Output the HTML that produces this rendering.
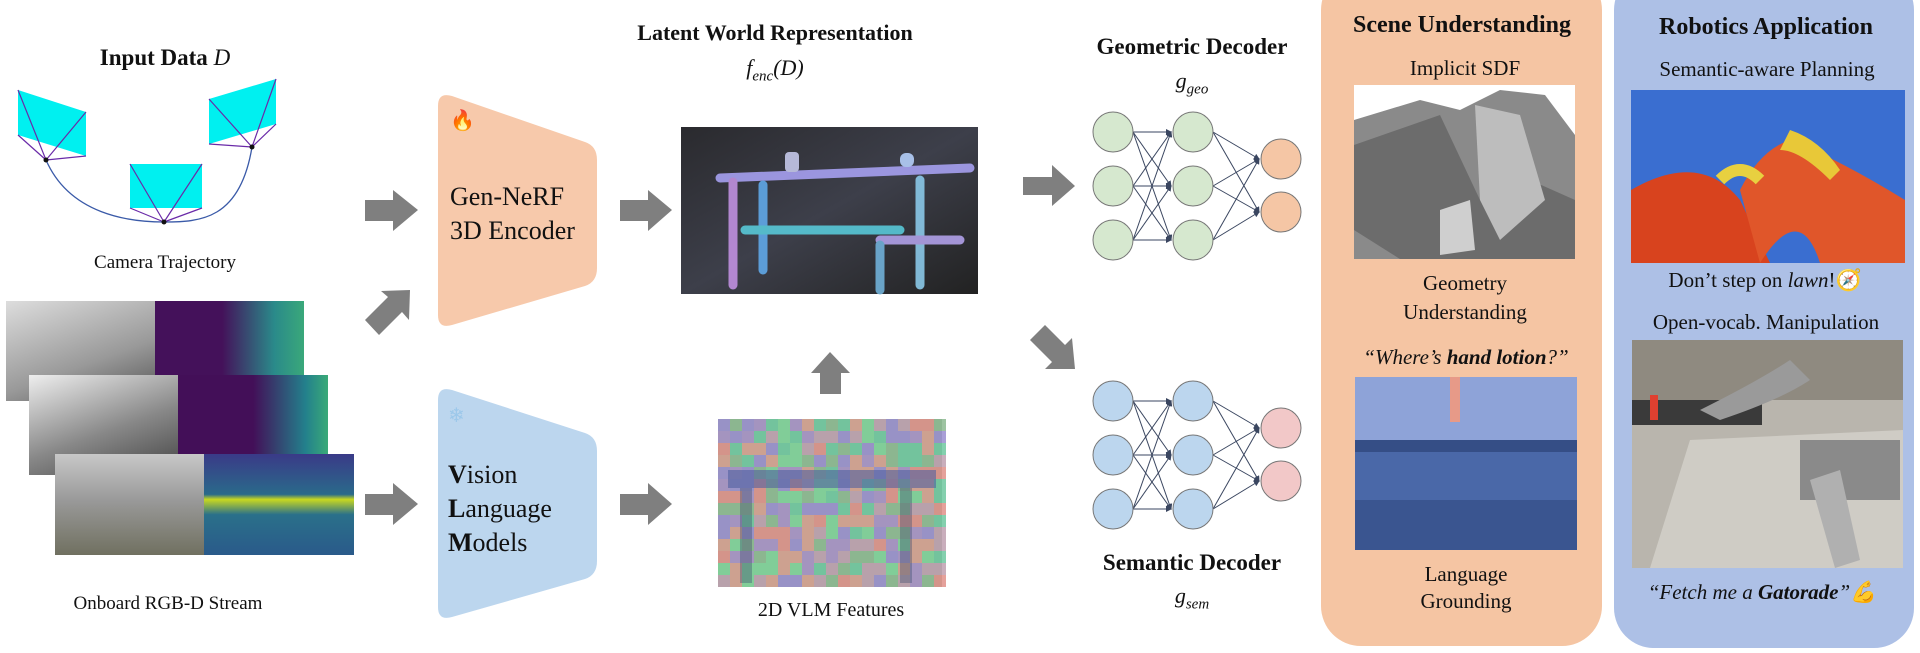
<!DOCTYPE html>
<html><head><meta charset="utf-8"><style>
body{margin:0;width:1920px;height:653px;background:#fff;position:relative;overflow:hidden;font-family:"Liberation Serif",serif;color:#111}
.t{position:absolute;white-space:nowrap;transform:translateX(-50%);line-height:1}
.b{font-weight:bold}
.img{position:absolute}
</style></head><body>
<svg width="1920" height="653" style="position:absolute;left:0;top:0">
<defs>
<marker id="ah" markerWidth="6" markerHeight="6" refX="5" refY="3" orient="auto"><path d="M0,0L6,3L0,6z" fill="#3a4660"/></marker>
<linearGradient id="lat" x1="0" y1="0" x2="1" y2="1"><stop offset="0" stop-color="#2a2a2e"/><stop offset=".5" stop-color="#3d3f4a"/><stop offset="1" stop-color="#222"/></linearGradient>
</defs>
<rect x="1321" y="-30" width="281" height="676" rx="40" fill="#f5c5a3"/>
<rect x="1614" y="-30" width="300" height="678" rx="40" fill="#adc0e6"/>
<path d="M46,160 C70,215 130,222 164,222 C200,222 240,220 252,147" fill="none" stroke="#3a5aa8" stroke-width="1.3"/>
<polygon points="18,90 86,112 86,156 18,135" fill="#00f0f0"/>
<polygon points="130,164 202,164 202,208 130,208" fill="#00f0f0"/>
<polygon points="209,99 276,79 276,124 209,144" fill="#00f0f0"/>
<g stroke="#6a2aa8" stroke-width="1.2">
<line x1="46" y1="160" x2="18" y2="90"/><line x1="46" y1="160" x2="86" y2="112"/><line x1="46" y1="160" x2="18" y2="135"/><line x1="46" y1="160" x2="86" y2="156"/>
<line x1="164" y1="222" x2="130" y2="164"/><line x1="164" y1="222" x2="202" y2="164"/><line x1="164" y1="222" x2="130" y2="208"/><line x1="164" y1="222" x2="202" y2="208"/>
<line x1="252" y1="147" x2="209" y2="99"/><line x1="252" y1="147" x2="276" y2="79"/><line x1="252" y1="147" x2="209" y2="144"/><line x1="252" y1="147" x2="276" y2="124"/>
</g>
<circle cx="46" cy="160" r="2.5" fill="#111"/><circle cx="164" cy="222" r="2.5" fill="#111"/><circle cx="252" cy="147" r="2.5" fill="#111"/>
<path d="M452,96 L585,142 Q597,146 597,160 L597,268 Q597,282 585,286 L452,325 Q438,329 438,315 L438,106 Q438,92 452,96z" fill="#f7c9ab"/>
<path d="M452,390 L585,433 Q597,437 597,451 L597,561 Q597,575 585,579 L452,617 Q438,621 438,607 L438,400 Q438,386 452,390z" fill="#bcd6ee"/>
<g fill="#7f7f7f">
<path d="M365,200 L393,200 L393,190 L418,210 L393,231 L393,221 L365,221z"/>
<path d="M365,494 L393,494 L393,483 L418,504 L393,525 L393,515 L365,515z"/>
<path d="M620,200 L648,200 L648,190 L672,210 L648,231 L648,221 L620,221z"/>
<path d="M620,494 L648,494 L648,483 L672,504 L648,525 L648,515 L620,515z"/>
<path d="M1023,177 L1052,177 L1052,165 L1075,186 L1052,206 L1052,195 L1023,195z"/>
<path d="M820,394 L820,373 L811,373 L830,352 L850,373 L841,373 L841,394z"/>
<path d="M365,320 L388,297 L381,291 L410,290 L409,320 L402,312 L379,335z"/>
<path d="M1030,340 L1045,325 L1065,345 L1072,338 L1075,369 L1045,369 L1052,362z"/>
</g>
<rect x="681" y="127" width="297" height="167" fill="url(#lat)"/>
<g fill="none" stroke-width="9" stroke-linecap="round" opacity=".9">
<path d="M720,178 L970,168" stroke="#a6a0f0"/>
<path d="M733,182 L733,285" stroke="#c090e0"/>
<path d="M763,185 L763,270" stroke="#60a8e8"/>
<path d="M920,180 L920,285" stroke="#8ac8e8"/>
<path d="M745,230 L900,230" stroke="#58c8d8"/>
<path d="M880,240 L960,240" stroke="#b0a0e8"/>
<path d="M880,245 L880,290" stroke="#70b0d8"/>
</g>
<rect x="785" y="152" width="14" height="20" rx="4" fill="#b6b9d8"/><rect x="900" y="153" width="14" height="14" rx="6" fill="#a8c0e8"/>
<rect x="718" y="419" width="224" height="168" fill="#8fa98e"/>
<g id="mos"></g>
<g stroke="#3a4660" stroke-width="1" marker-end="url(#ah)">
<g id="edges1"></g><g id="edges2"></g>
</g>
<g id="nodes"></g>
<rect x="1354" y="85" width="221" height="174" fill="#fff"/>
<path d="M1354,120 L1420,100 L1460,110 L1500,90 L1545,95 L1575,135 L1575,259 L1354,259z" fill="#8a8a8a"/>
<path d="M1354,145 L1440,115 L1480,200 L1530,180 L1575,200 L1575,259 L1400,259 L1354,230z" fill="#6c6c6c"/>
<polygon points="1440,210 1470,200 1475,250 1440,255" fill="#cfcfcf"/>
<polygon points="1475,105 1520,115 1545,200 1500,240 1480,200" fill="#bdbdbd"/>
<rect x="1355" y="377" width="222" height="173" fill="#4a68a8"/>
<rect x="1355" y="377" width="222" height="75" fill="#8ea3d8"/>
<rect x="1355" y="440" width="222" height="12" fill="#354e86"/>
<rect x="1450" y="377" width="10" height="45" fill="#e79a88"/>
<rect x="1355" y="500" width="222" height="50" fill="#3a5590"/>
<rect x="1631" y="90" width="274" height="173" fill="#3a6ed0"/>
<path d="M1631,190 Q1700,150 1740,200 L1770,263 L1631,263z" fill="#d8431e"/>
<path d="M1740,190 Q1760,150 1790,140 Q1840,160 1905,200 L1905,263 L1820,263 Q1800,200 1760,263z" fill="#e0562a"/>
<path d="M1790,130 Q1820,140 1840,170 L1830,180 Q1800,150 1780,150z" fill="#e8c838"/>
<path d="M1720,180 Q1740,160 1760,180" stroke="#e8d040" stroke-width="12" fill="none"/>
<rect x="1632" y="340" width="271" height="228" fill="#b9b5ad"/>
<rect x="1632" y="340" width="271" height="60" fill="#8f8a80"/>
<rect x="1632" y="400" width="130" height="25" fill="#3a3a3a"/>
<polygon points="1690,440 1903,430 1903,568 1650,568" fill="#cfccc5"/>
<path d="M1700,410 Q1760,380 1790,360 L1810,380 Q1780,400 1720,420z" fill="#9a9a9a"/>
<rect x="1800" y="440" width="100" height="60" fill="#8a8a8a"/>
<polygon points="1810,480 1840,470 1860,560 1835,568" fill="#b0b0b0"/>
<rect x="1650" y="395" width="8" height="25" fill="#e04030"/>
</svg>
<div class="img" style="left:6px;top:301px;width:149px;height:100px;background:linear-gradient(160deg,#ddd,#999 60%,#555)"></div>
<div class="img" style="left:155px;top:301px;width:149px;height:100px;background:linear-gradient(90deg,#44115a 45%,#2a8a8a 80%,#3aa87a)"></div>
<div class="img" style="left:29px;top:375px;width:149px;height:100px;background:linear-gradient(160deg,#eee,#888 55%,#444)"></div>
<div class="img" style="left:178px;top:375px;width:150px;height:100px;background:linear-gradient(90deg,#430f58 50%,#23808c 85%,#3aaa78)"></div>
<div class="img" style="left:55px;top:454px;width:149px;height:101px;background:linear-gradient(180deg,#c8c8c8,#9a9a9a 45%,#707060)"></div>
<div class="img" style="left:204px;top:454px;width:150px;height:101px;background:linear-gradient(180deg,#3a3a88,#2a6a8a 40%,#c8d820 45%,#2a708a 60%,#2a5a8a)"></div>
<div class="t b" style="left:165px;top:46px;font-size:23px">Input Data <i style="font-weight:normal">D</i></div>
<div class="t" style="left:165px;top:253px;font-size:19px">Camera Trajectory</div>
<div class="t" style="left:168px;top:594px;font-size:19px">Onboard RGB-D Stream</div>
<div style="position:absolute;left:450px;top:108px;font-size:20px">🔥</div>
<div style="position:absolute;left:450px;top:180px;font-size:26px;line-height:34px">Gen-NeRF<br>3D Encoder</div>
<div style="position:absolute;left:448px;top:403px;font-size:20px;color:#9cc8ea">❄</div>
<div style="position:absolute;left:448px;top:458px;font-size:26px;line-height:34px"><b>V</b>ision<br><b>L</b>anguage<br><b>M</b>odels</div>
<div class="t b" style="left:775px;top:22px;font-size:22px">Latent World Representation</div>
<div class="t" style="left:775px;top:57px;font-size:22px;font-style:italic">f<sub style="font-size:15px">enc</sub>(D)</div>
<div class="t" style="left:831px;top:600px;font-size:20px">2D VLM Features</div>
<div class="t b" style="left:1192px;top:35px;font-size:23px">Geometric Decoder</div>
<div class="t" style="left:1192px;top:70px;font-size:22px;font-style:italic">g<sub style="font-size:15px">geo</sub></div>
<div class="t b" style="left:1192px;top:551px;font-size:23px">Semantic Decoder</div>
<div class="t" style="left:1192px;top:585px;font-size:22px;font-style:italic">g<sub style="font-size:15px">sem</sub></div>
<div class="t b" style="left:1462px;top:13px;font-size:24px">Scene Understanding</div>
<div class="t" style="left:1465px;top:58px;font-size:21px">Implicit SDF</div>
<div class="t" style="left:1465px;top:269px;font-size:21px;line-height:29px;text-align:center">Geometry<br>Understanding</div>
<div class="t" style="left:1466px;top:347px;font-size:21px;font-style:italic">“Where’s <b>hand lotion</b>?”</div>
<div class="t" style="left:1466px;top:561px;font-size:21px;line-height:27px;text-align:center">Language<br>Grounding</div>
<div class="t b" style="left:1766px;top:15px;font-size:24px">Robotics Application</div>
<div class="t" style="left:1767px;top:59px;font-size:21px">Semantic-aware Planning</div>
<div class="t" style="left:1765px;top:270px;font-size:21px">Don’t step on <i>lawn</i>!🧭</div>
<div class="t" style="left:1766px;top:312px;font-size:21px">Open-vocab. Manipulation</div>
<div class="t" style="left:1762px;top:582px;font-size:21px;font-style:italic">“Fetch me a <b>Gatorade</b>”💪</div>
<script>
var ns="http://www.w3.org/2000/svg";
function el(p,t,a){var e=document.createElementNS(ns,t);for(var k in a)e.setAttribute(k,a[k]);p.appendChild(e);return e;}
var mos=document.getElementById("mos");var cols=["#e0918a","#7fd49a","#9a8ed0","#c0a0b0","#8cb890","#d8a090","#6fc8a0","#a890c8"];
var s=1;function r(){s=(s*9301+49297)%233280;return s/233280;}
for(var y=419;y<587;y+=12)for(var x=718;x<942;x+=12){el(mos,"rect",{x:x,y:y,width:12,height:Math.min(12,587-y),fill:cols[Math.floor(r()*8)],opacity:.85});}
el(mos,"rect",{x:728,y:470,width:208,height:18,fill:"#5060a0",opacity:.6});
el(mos,"rect",{x:740,y:488,width:12,height:95,fill:"#405070",opacity:.4});
el(mos,"rect",{x:900,y:488,width:12,height:95,fill:"#405070",opacity:.4});
var nodes=document.getElementById("nodes");
function nn(yoff,c1,c2,g){var L1=[132,186,240].map(v=>v+yoff),L3=[159,212].map(v=>v+yoff);
for(var i of L1)for(var j of L1)el(g,"line",{x1:1133,y1:i,x2:1171,y2:j});
for(var i of L1)for(var j of L3)el(g,"line",{x1:1213,y1:i,x2:1259,y2:j});
for(var i of L1){el(nodes,"circle",{cx:1113,cy:i,r:20,fill:c1,stroke:"#777"});el(nodes,"circle",{cx:1193,cy:i,r:20,fill:c1,stroke:"#777"});}
for(var j of L3)el(nodes,"circle",{cx:1281,cy:j,r:20,fill:c2,stroke:"#777"});}
nn(0,"#d6e8cf","#f5c6a5",document.getElementById("edges1"));
nn(269,"#bcd6ee","#f2c8c8",document.getElementById("edges2"));
</script>
</body></html>
